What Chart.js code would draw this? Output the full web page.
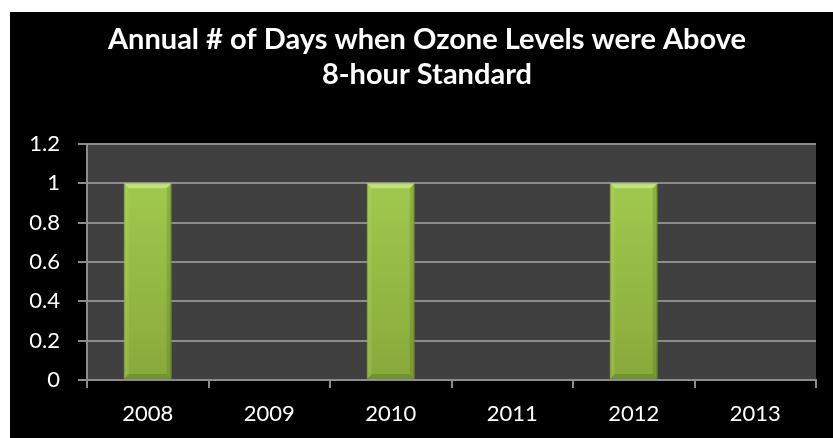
<!DOCTYPE html>
<html>
<head>
<meta charset="utf-8">
<script src="https://cdn.jsdelivr.net/npm/chart.js@4/dist/chart.umd.min.js"></script>
<style>
  html, body { margin: 0; padding: 0; background: #ffffff; }
  #wrap { position: absolute; left: 10px; top: 12px; width: 823px; height: 426px; background: #000000; }
  canvas { display: block; }
</style>
</head>
<body>
<div id="wrap"><canvas id="c" width="823" height="426"></canvas></div>
<script>
const titleLines = ["Annual # of Days when Ozone Levels were Above", "8-hour Standard"];
const categories = ["2008", "2009", "2010", "2011", "2012", "2013"];
const daysAbove = [1, 0, 1, 0, 1, 0];
const yTickLabels = ["0", "0.2", "0.4", "0.6", "0.8", "1", "1.2"];

const plotBg = {
  id: 'plotBg',
  beforeDraw(chart) {
    const { ctx, chartArea: a } = chart;
    ctx.save();
    ctx.fillStyle = '#404040';
    ctx.fillRect(a.left, a.top, a.right - a.left, a.bottom - a.top);
    ctx.restore();
  }
};

const bevel = {
  id: 'bevel',
  afterDatasetsDraw(chart) {
    const { ctx } = chart;
    const meta = chart.getDatasetMeta(0);
    ctx.save();
    meta.data.forEach(bar => {
      const p = bar.getProps(['x', 'y', 'base', 'width'], true);
      const h = p.base - p.y;
      if (h < 2) return;
      const l = p.x - p.width / 2, r = p.x + p.width / 2, t = p.y, b = p.base;
      const d = 5;
      ctx.fillStyle = 'rgba(205,240,140,0.7)';
      ctx.beginPath();
      ctx.moveTo(l, t); ctx.lineTo(r, t); ctx.lineTo(r - d, t + d); ctx.lineTo(l + d, t + d); ctx.closePath(); ctx.fill();
      ctx.fillStyle = 'rgba(180,220,100,0.25)';
      ctx.beginPath();
      ctx.moveTo(l, t); ctx.lineTo(l + d, t + d); ctx.lineTo(l + d, b - d); ctx.lineTo(l, b); ctx.closePath(); ctx.fill();
      ctx.fillStyle = 'rgba(60,90,20,0.2)';
      ctx.beginPath();
      ctx.moveTo(r, t); ctx.lineTo(r - d, t + d); ctx.lineTo(r - d, b - d); ctx.lineTo(r, b); ctx.closePath(); ctx.fill();
      ctx.fillStyle = 'rgba(50,75,15,0.25)';
      ctx.beginPath();
      ctx.moveTo(l, b); ctx.lineTo(r, b); ctx.lineTo(r - d, b - d); ctx.lineTo(l + d, b - d); ctx.closePath(); ctx.fill();
    });
    ctx.restore();
  }
};

const titleDraw = {
  id: 'titleDraw',
  afterDraw(chart) {
    const { ctx } = chart;
    ctx.save();
    ctx.fillStyle = '#ffffff';
    ctx.font = 'bold 29px Lato, "Open Sans", sans-serif';
    ctx.textAlign = 'center';
    ctx.textBaseline = 'alphabetic';
    ctx.fillText(titleLines[0], 417, 37);
    ctx.fillText(titleLines[1], 417, 72);
    ctx.restore();
  }
};

function barGradient(ctx) {
  const chart = ctx.chart;
  const a = chart.chartArea;
  if (!a) return '#9bc146';
  const g = chart.ctx.createLinearGradient(0, a.top, 0, a.bottom);
  g.addColorStop(0, '#a6cf52');
  g.addColorStop(1, '#88a93b');
  return g;
}

new Chart(document.getElementById('c'), {
  type: 'bar',
  data: {
    labels: categories,
    datasets: [{
      data: daysAbove,
      backgroundColor: barGradient,
      borderColor: '#7c9a34',
      borderWidth: 1,
      categoryPercentage: 1,
      barPercentage: 0.395
    }]
  },
  options: {
    responsive: false,
    animation: false,
    events: [],
    layout: { padding: { top: 132, right: 17, left: 0, bottom: 0 } },
    plugins: { legend: { display: false }, title: { display: false }, tooltip: { enabled: false } },
    scales: {
      x: {
        afterFit(s) { s.height = 58; },
        border: { display: true, color: '#8c8c8c', width: 2 },
        grid: { display: true, drawOnChartArea: false, drawTicks: true, tickLength: 8, color: '#8c8c8c', offset: true, lineWidth: 2 },
        ticks: { color: '#ffffff', font: { family: 'Lato, "Open Sans", sans-serif', size: 22 }, padding: 13 }
      },
      y: {
        min: 0, max: 1.2,
        afterFit(s) { s.width = 77; },
        border: { display: true, color: '#8c8c8c', width: 2 },
        grid: { color: '#8c8c8c', tickLength: 9, lineWidth: 2 },
        ticks: {
          stepSize: 0.2,
          color: '#ffffff',
          padding: 18,
          font: { family: 'Lato, "Open Sans", sans-serif', size: 22 },
          callback: (v, i) => yTickLabels[i]
        }
      }
    }
  },
  plugins: [plotBg, bevel, titleDraw]
});
</script>
</body>
</html>
